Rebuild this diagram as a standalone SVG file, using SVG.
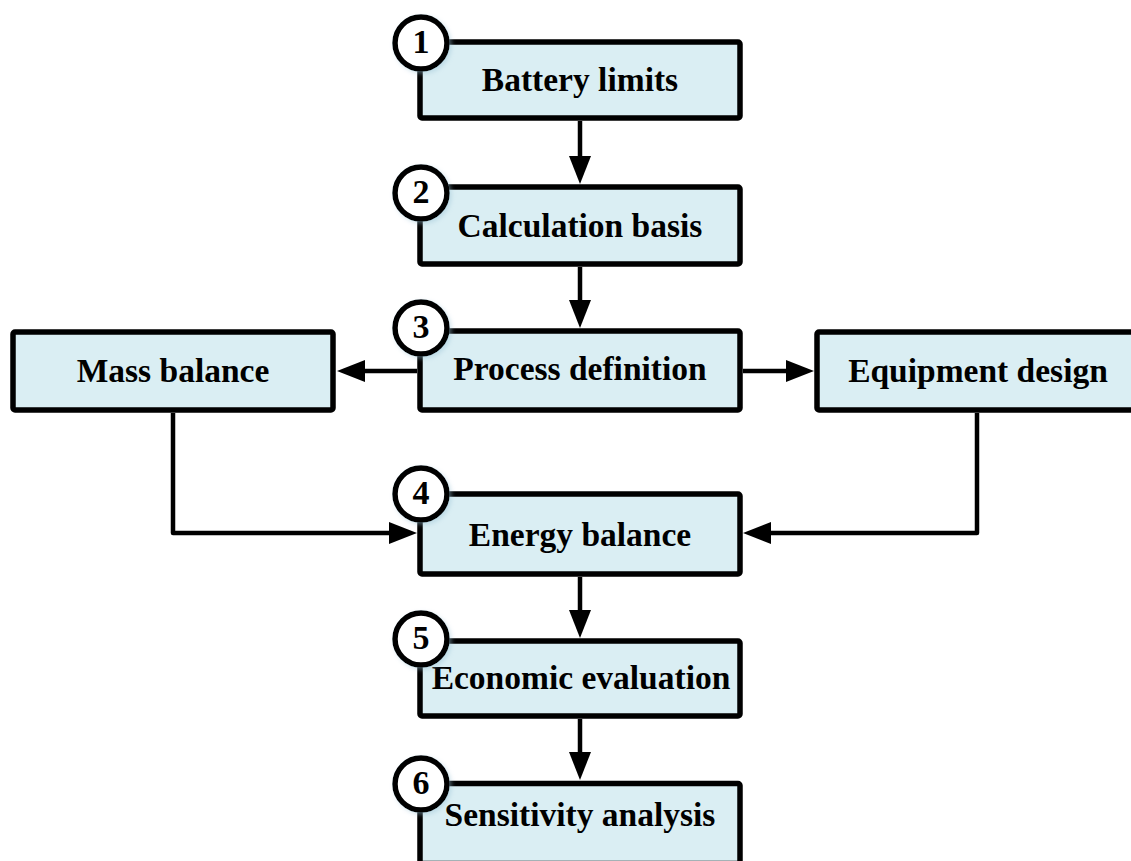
<svg xmlns="http://www.w3.org/2000/svg" width="1131" height="861" viewBox="0 0 1131 861">
  <style>
    .box { fill: #daeef3; stroke: #000; stroke-width: 5.5; }
    .label { font-family: "Liberation Serif", "Times New Roman", serif; font-weight: bold; font-size: 33.5px; fill: #000; text-anchor: middle; }
    .badge { fill: #fff; stroke: #000; stroke-width: 5.5; }
    .num { font-family: "Liberation Serif", "Times New Roman", serif; font-weight: bold; font-size: 34px; fill: #000; text-anchor: middle; }
    .conn { fill: none; stroke: #000; stroke-width: 4.5; stroke-linejoin: round; marker-end: url(#arrow); }
  </style>
  <defs>
    <marker id="arrow" markerUnits="userSpaceOnUse" viewBox="0 0 28 22" refX="2" refY="11" markerWidth="28" markerHeight="22" orient="auto">
      <path d="M0,0 L28,11 L0,22 Z" fill="#000"/>
    </marker>
    <filter id="glow" x="-30%" y="-30%" width="160%" height="160%">
      <feDropShadow dx="2" dy="2" stdDeviation="2" flood-color="#9cc3d5" flood-opacity="0.45"/>
    </filter>
  </defs>

  <!-- connectors -->
  <g id="connectors">
    <path class="conn" d="M580,121 V158"/>
    <path class="conn" d="M580,267 V302"/>
    <path class="conn" d="M417,371 H363"/>
    <path class="conn" d="M743,371 H788"/>
    <path class="conn" d="M173,413 V533 H391"/>
    <path class="conn" d="M977,413 V533 H769"/>
    <path class="conn" d="M580,577 V612"/>
    <path class="conn" d="M580,719 V754"/>
  </g>

  <!-- step 1 -->
  <g id="battery-limits">
    <rect class="box" x="420" y="42" width="320" height="76" rx="2"/>
    <text class="label" x="580" y="91">Battery limits</text>
    <circle class="badge" cx="421" cy="43" r="26" filter="url(#glow)"/>
    <text class="num" x="421" y="53">1</text>
  </g>

  <!-- step 2 -->
  <g id="calculation-basis">
    <rect class="box" x="420" y="187" width="320" height="77" rx="2"/>
    <text class="label" x="580" y="237">Calculation basis</text>
    <circle class="badge" cx="421" cy="193" r="26" filter="url(#glow)"/>
    <text class="num" x="421" y="203">2</text>
  </g>

  <!-- step 3 -->
  <g id="process-definition">
    <rect class="box" x="420" y="331" width="320" height="79" rx="2"/>
    <text class="label" x="580" y="380">Process definition</text>
    <circle class="badge" cx="421" cy="328" r="26" filter="url(#glow)"/>
    <text class="num" x="421" y="338">3</text>
  </g>

  <!-- side branches -->
  <g id="mass-balance">
    <rect class="box" x="13" y="332" width="320" height="78" rx="2"/>
    <text class="label" x="173" y="382">Mass balance</text>
  </g>

  <g id="equipment-design">
    <rect class="box" x="817" y="332" width="320" height="78" rx="2"/>
    <text class="label" x="978" y="382">Equipment design</text>
  </g>

  <!-- step 4 -->
  <g id="energy-balance">
    <rect class="box" x="420" y="494" width="320" height="80" rx="2"/>
    <text class="label" x="580" y="546">Energy balance</text>
    <circle class="badge" cx="421" cy="494" r="26" filter="url(#glow)"/>
    <text class="num" x="421" y="504">4</text>
  </g>

  <!-- step 5 -->
  <g id="economic-evaluation">
    <rect class="box" x="420" y="641" width="320" height="75" rx="2"/>
    <text class="label" x="581" y="689">Economic evaluation</text>
    <circle class="badge" cx="421" cy="639" r="26" filter="url(#glow)"/>
    <text class="num" x="421" y="649">5</text>
  </g>

  <!-- step 6 -->
  <g id="sensitivity-analysis">
    <rect class="box" x="420" y="783.5" width="320" height="80" rx="2"/>
    <text class="label" x="580" y="826">Sensitivity analysis</text>
    <circle class="badge" cx="421" cy="784" r="26" filter="url(#glow)"/>
    <text class="num" x="421" y="794">6</text>
  </g>
</svg>
